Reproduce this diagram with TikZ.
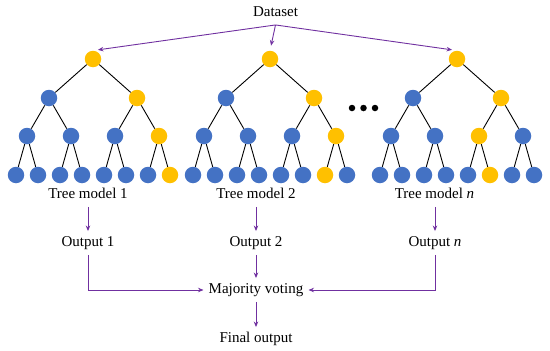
\documentclass[tikz,border=0pt]{standalone}
\usepackage{fontspec}
\setmainfont{Liberation Serif}
\usetikzlibrary{arrows.meta}
\definecolor{yl}{RGB}{255,192,0}
\definecolor{bl}{RGB}{68,114,196}
\definecolor{pp}{RGB}{112,48,160}
\tikzset{
  tn/.style={circle,minimum size=16.5pt,inner sep=0pt,draw=none},
  edge/.style={black,line width=0.9pt},
  lbl/.style={font=\fontsize{15pt}{18pt}\selectfont,text height=10.5pt,text depth=3pt,inner xsep=5pt,inner ysep=5pt},
  parrow/.style={pp,line width=0.9pt,-{Stealth[length=5.5pt,width=4.5pt]}},
  dotn/.style={circle,fill=black,minimum size=6.5pt,inner sep=0pt}
}
\newcommand\mytree[6]{%
  \node[tn,fill=#3] (#1r) at (#2,59) {};
  \foreach \c [count=\i] in {#4} {
    \node[tn,fill=\c] (#1a\i) at ({#2-44+88*(\i-1)},98) {};
    \draw[edge] (#1r) -- (#1a\i);
  }
  \foreach \c [count=\i] in {#5} {
    \pgfmathtruncatemacro\p{(\i+1)/2}
    \node[tn,fill=\c] (#1b\i) at ({#2-66+44*(\i-1)},136) {};
    \draw[edge] (#1a\p) -- (#1b\i);
  }
  \foreach \c [count=\i] in {#6} {
    \pgfmathtruncatemacro\p{(\i+1)/2}
    \node[tn,fill=\c] (#1c\i) at ({#2-77+22*(\i-1)},175) {};
    \draw[edge] (#1b\p) -- (#1c\i);
  }
}
\begin{document}
\begin{tikzpicture}[x=1pt,y=-1pt]
\useasboundingbox (0,0) rectangle (550,351);
\mytree{ta}{93}{yl}{bl,yl}{bl,bl,bl,yl}{bl,bl,bl,bl,bl,bl,bl,yl}
\mytree{tb}{270}{yl}{bl,yl}{bl,bl,bl,yl}{bl,bl,bl,bl,bl,bl,yl,bl}
\mytree{tn}{457}{yl}{bl,yl}{bl,bl,yl,bl}{bl,bl,bl,bl,bl,yl,bl,bl}
\node[dotn] (d1) at (352,108) {};
\node[dotn] (d2) at (363.5,108) {};
\node[dotn] (d3) at (375,108) {};
\node[lbl] (ds) at (275.5,13) {Dataset};
\node[lbl] (m1) at (88,195) {Tree model 1};
\node[lbl] (m2) at (256,195) {Tree model 2};
\node[lbl] (mn) at (434.5,195) {Tree model \textit{n}};
\node[lbl] (o1) at (88,243) {Output 1};
\node[lbl] (o2) at (256,243) {Output 2};
\node[lbl] (on) at (435,243) {Output \textit{n}};
\node[lbl] (mv) at (256,290) {Majority voting};
\node[lbl] (fo) at (256,339) {Final output};
\draw[parrow,shorten >=5pt] (ds.south) -- (tar.north);
\draw[parrow,shorten >=5pt] (ds.south) -- (tbr.north);
\draw[parrow,shorten >=5pt] (ds.south) -- (tnr.north);
\draw[parrow] (m1) -- (o1);
\draw[parrow] (m2) -- (o2);
\draw[parrow] (mn.south -| on) -- (on);
\draw[parrow] (o2) -- (mv);
\draw[parrow] (o1) |- (mv);
\draw[parrow] (on) |- (mv);
\draw[parrow] (mv) -- (fo);
\end{tikzpicture}
\end{document}
